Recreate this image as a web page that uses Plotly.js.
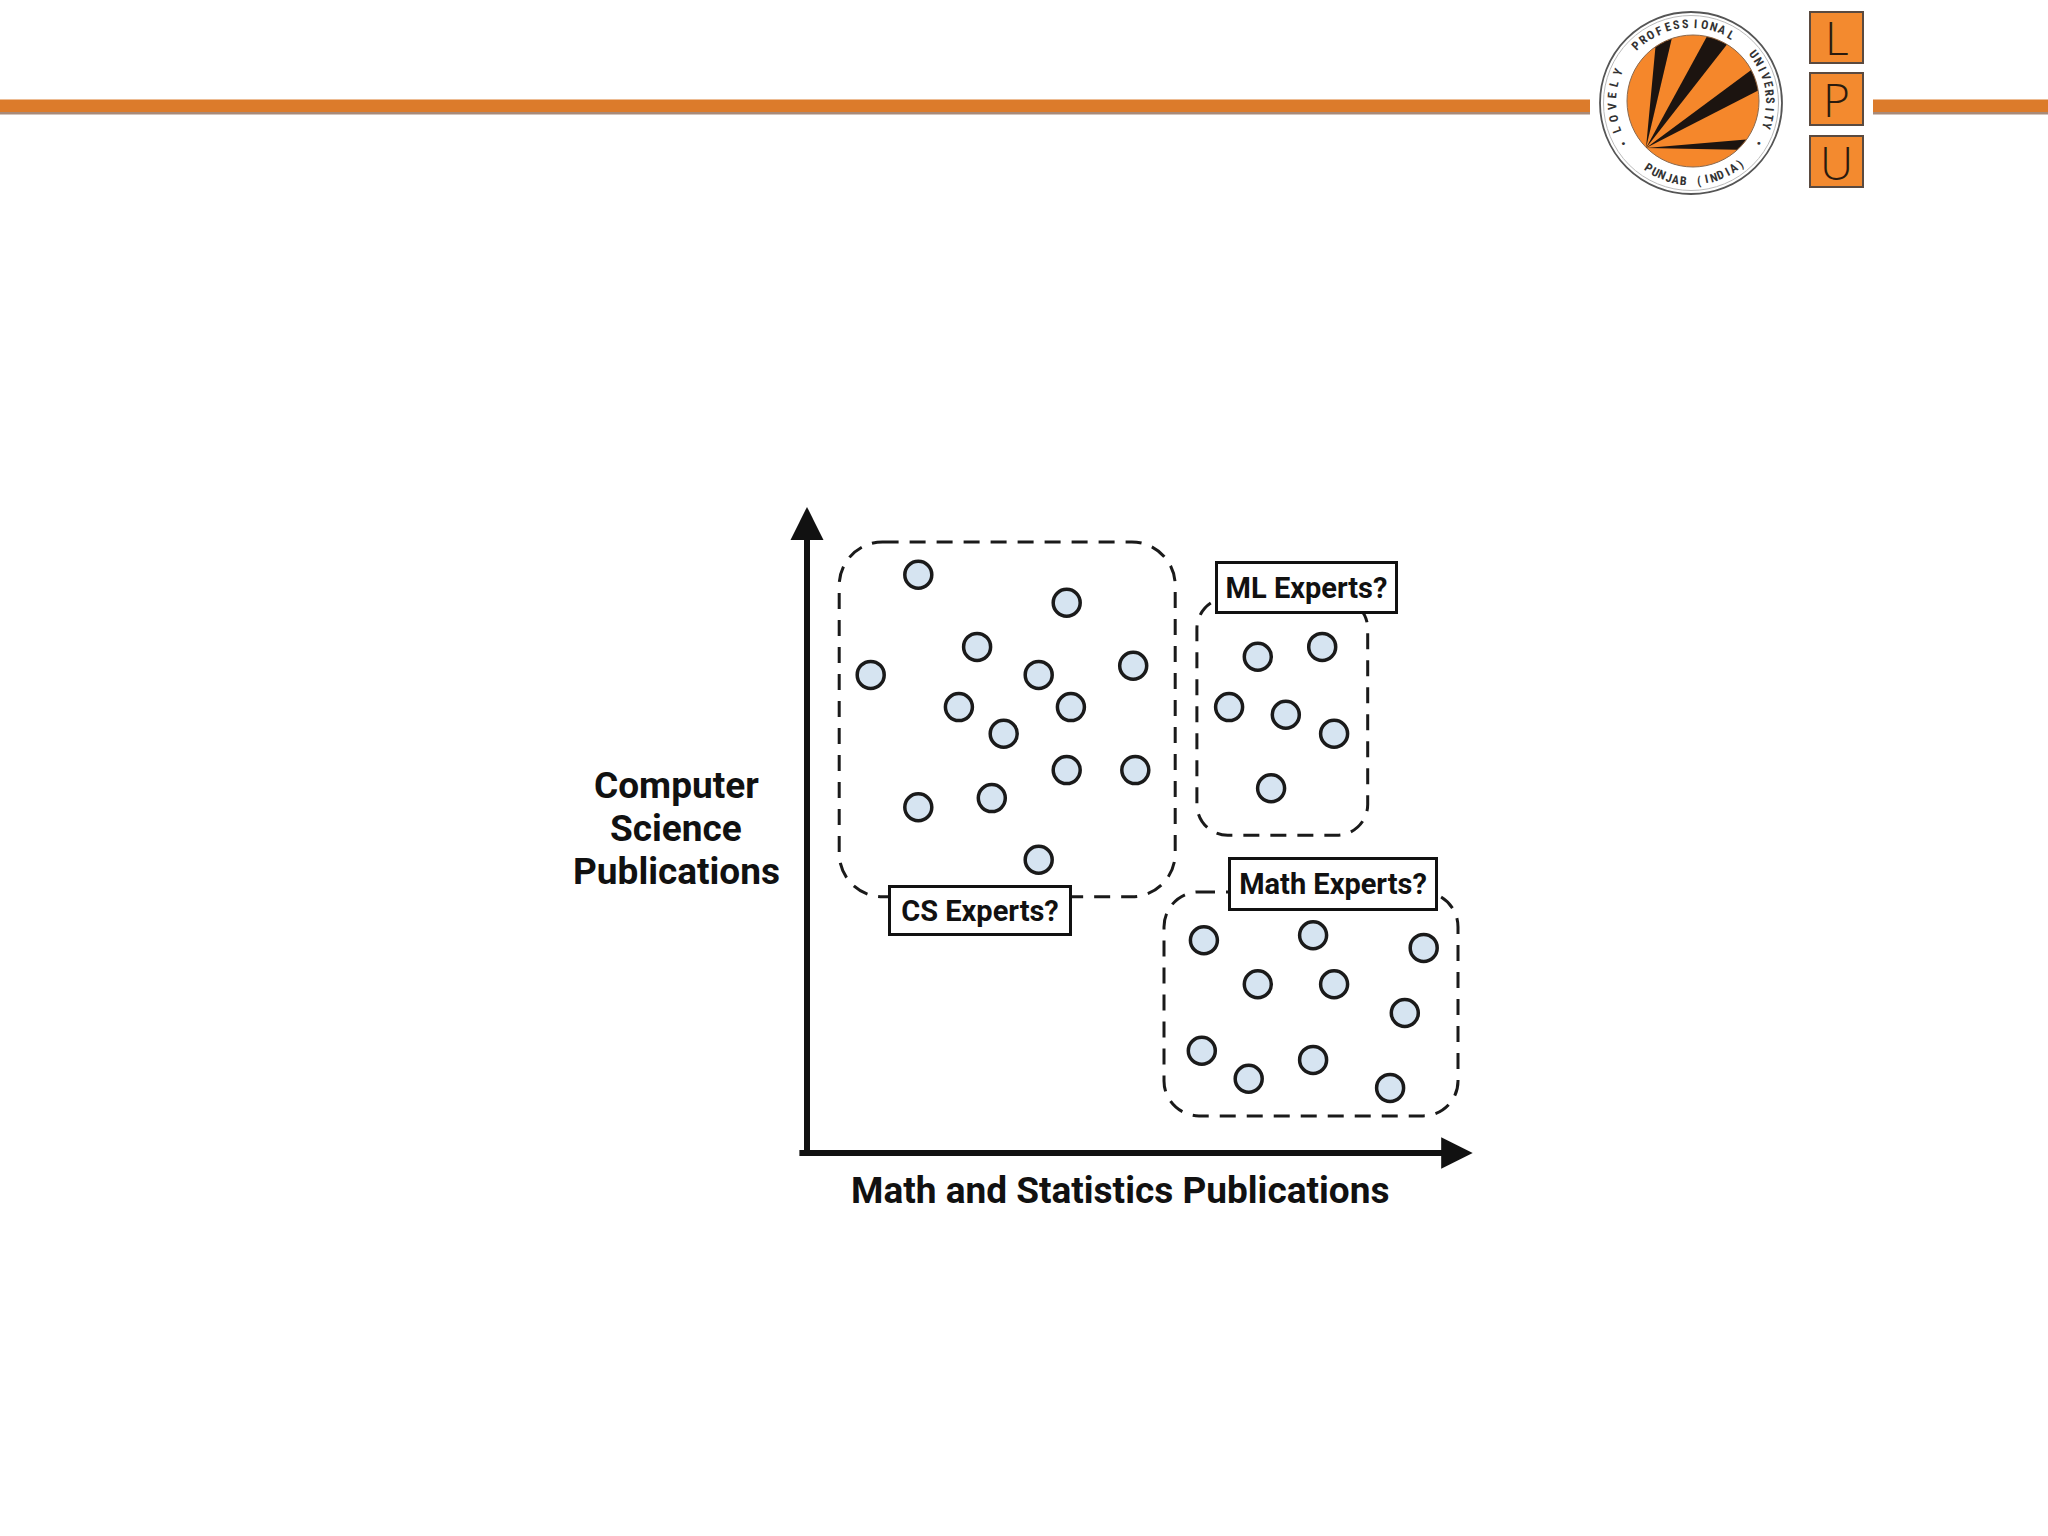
<!DOCTYPE html>
<html><head><meta charset="utf-8">
<script src="https://cdn.plot.ly/plotly-3.0.1.min.js"></script>
<style>html,body{margin:0;padding:0;background:#fff;} #chart{width:2048px;height:1536px;}</style>
</head><body><div id="chart"></div>
<script>
// ---------- data (publication scores on a 0-100 scale) ----------
const csMath   = [15.9, 37.1, 24.3, 9.1, 33.1, 46.6, 21.7, 37.7, 28.1, 37.1, 46.9, 15.9, 26.4, 33.1];
const csComp   = [82.6, 78.6, 72.3, 68.3, 68.3, 69.6, 63.7, 63.7, 59.9, 54.7, 54.7, 49.4, 50.7, 41.9];
const mlMath   = [64.4, 73.6, 60.3, 68.4, 75.3, 66.3];
const mlComp   = [70.9, 72.3, 63.7, 62.6, 59.9, 52.1];
const mathMath = [56.7, 72.3, 88.1, 64.4, 75.3, 85.4, 56.4, 63.1, 72.3, 83.3];
const mathComp = [30.4, 31.1, 29.3, 24.1, 24.1, 20.0, 14.6, 10.6, 13.3, 9.3];

const groupLabels = ['CS Experts?', 'ML Experts?', 'Math Experts?'];
const xAxisLabel = 'Math and Statistics Publications';
const yAxisLabelLines = ['Computer', 'Science', 'Publications'];
// cluster outlines [xmin, xmax, ymin, ymax] in data units
const csBox   = [4.6, 52.6, 36.6, 87.3];
const mlBox   = [55.7, 80.1, 45.4, 79.3];
const mathBox = [51.0, 93.0, 5.3, 37.3];
// logo texts
const logoTop = ['LOVELY', 'PROFESSIONAL', 'UNIVERSITY'];
const logoBottom = 'PUNJAB (INDIA)';
const logoLetters = ['L', 'P', 'U'];

// ---------- layout geometry ----------
const W = 2048, H = 1536;
const M = {l: 807, r: 541, t: 453, b: 383};
const PW = W - M.l - M.r, PH = H - M.t - M.b;
const pX = px => (px - M.l) / PW;          // page pixel -> paper
const pY = py => (H - M.b - py) / PH;

const FONT = 'Roboto, "Liberation Sans", Arial, sans-serif';
const ORANGE = '#F5872B';

function roundRect(b, r) {
  const [x0, x1, y0, y1] = b, k = 0.45;
  return `M ${x0+r},${y1} L ${x1-r},${y1} C ${x1-r*k},${y1} ${x1},${y1-r*k} ${x1},${y1-r} ` +
         `L ${x1},${y0+r} C ${x1},${y0+r*k} ${x1-r*k},${y0} ${x1-r},${y0} ` +
         `L ${x0+r},${y0} C ${x0+r*k},${y0} ${x0},${y0+r*k} ${x0},${y0+r} ` +
         `L ${x0},${y1-r} C ${x0},${y1-r*k} ${x0+r*k},${y1} ${x0+r},${y1} Z`;
}

const marker = {size: 27, color: '#D6E4F1', line: {color: '#1a1a1a', width: 3.5}};
const traces = [
  {x: csMath, y: csComp, name: 'CS'},
  {x: mlMath, y: mlComp, name: 'ML'},
  {x: mathMath, y: mathComp, name: 'Math'}
].map(t => Object.assign(t, {type: 'scatter', mode: 'markers', marker, cliponaxis: false,
  hoverinfo: 'skip', showlegend: false}));

const dashLine = {color: '#1a1a1a', width: 3, dash: '16px,11px'};
const shapes = [
  {type: 'path', xref: 'x', yref: 'y', path: roundRect(csBox, 6.2), line: dashLine, layer: 'below'},
  {type: 'path', xref: 'x', yref: 'y', path: roundRect(mlBox, 4.4), line: dashLine, layer: 'below'},
  {type: 'path', xref: 'x', yref: 'y', path: roundRect(mathBox, 5.0), line: dashLine, layer: 'below'}
];

// header bar
function rectPx(x0, y0, x1, y1, fill, line) {
  return {type: 'rect', xref: 'paper', yref: 'paper', x0: pX(x0), x1: pX(x1), y0: pY(y1), y1: pY(y0),
    fillcolor: fill, line: line || {width: 0}, layer: 'above'};
}
shapes.push(rectPx(0, 99.5, 1590, 112, '#DC7B2B'));
shapes.push(rectPx(0, 112, 1590, 114.5, '#A88A78'));
shapes.push(rectPx(1873, 99.5, 2048, 112, '#DC7B2B'));
shapes.push(rectPx(1873, 112, 2048, 114.5, '#A88A78'));

// logo
function circlePx(cx, cy, r, fill, line) {
  return {type: 'circle', xref: 'paper', yref: 'paper', x0: pX(cx-r), x1: pX(cx+r), y0: pY(cy+r), y1: pY(cy-r),
    fillcolor: fill, line: line, layer: 'above'};
}
const LC = [1691, 103];
shapes.push(circlePx(LC[0], LC[1], 91, '#ffffff', {color: '#555', width: 1.8}));
shapes.push(circlePx(LC[0], LC[1], 87.5, 'rgba(0,0,0,0)', {color: '#bbb', width: 1}));
const DC = [1693, 101], DR = 66;
shapes.push(circlePx(DC[0], DC[1], DR, ORANGE, {color: '#8a6a50', width: 1}));
const V = [1646, 148];
[[109, 125], [59, 78], [9, 28], [-48, -36]].forEach(([a1, a2]) => {
  let p = `M ${pX(V[0])},${pY(V[1])}`;
  for (let i = 0; i <= 6; i++) {
    const a = (a1 + (a2 - a1) * i / 6) * Math.PI / 180;
    p += ` L ${pX(DC[0] + (DR-0.5) * Math.cos(a))},${pY(DC[1] - (DR-0.5) * Math.sin(a))}`;
  }
  shapes.push({type: 'path', xref: 'paper', yref: 'paper', path: p + ' Z', fillcolor: '#1c1410',
    line: {width: 0}, layer: 'above'});
});
// LPU boxes
const boxY = [[12, 63], [73, 125], [136, 187]];
boxY.forEach(([y0, y1]) => shapes.push(rectPx(1810, y0, 1863, y1, '#F38A2F', {color: '#5a4a40', width: 2})));

// ---------- annotations ----------
const ann = [];
const arrowCol = '#111';
ann.push({xref: 'x', yref: 'y', axref: 'x', ayref: 'y', x: 0, y: 92.3, ax: 0, ay: -0.5, text: '',
  showarrow: true, arrowhead: 2, arrowsize: 1.1, arrowwidth: 6, arrowcolor: arrowCol, standoff: 0});
ann.push({xref: 'x', yref: 'y', axref: 'x', ayref: 'y', x: 95.1, y: 0, ax: -1.3, ay: 0, text: '',
  showarrow: true, arrowhead: 2, arrowsize: 1.05, arrowwidth: 6, arrowcolor: arrowCol, standoff: 0});

const axisFont = {family: FONT, size: 37, color: '#111', weight: 700};
ann.push({xref: 'paper', yref: 'paper', x: pX(1120), y: pY(1190), text: xAxisLabel, showarrow: false,
  xanchor: 'center', yanchor: 'middle', font: axisFont});
const yLinePx = [785, 828, 871];
yAxisLabelLines.forEach((t, i) => ann.push({xref: 'paper', yref: 'paper', x: pX(676), y: pY(yLinePx[i]),
  text: t, showarrow: false, xanchor: 'center', yanchor: 'middle', font: axisFont}));

const boxFont = {family: FONT, size: 29, color: '#111', weight: 700};
const labelPos = [[24.7, 34.6, 178, 45], [71.4, 80.8, 177, 47], [75.1, 38.4, 204, 48]];
groupLabels.forEach((t, i) => {
  const [x, y, w, h] = labelPos[i];
  ann.push({xref: 'x', yref: 'y', x, y, text: t, showarrow: false, font: boxFont,
    bgcolor: '#ffffff', bordercolor: '#111', borderwidth: 3, borderpad: 0, width: w, height: h});
});

// logo ring text
const ringFont = {family: '"Liberation Sans Narrow", "Roboto Condensed", Roboto, sans-serif', size: 12, color: '#333', weight: 700};
function ringChar(ch, angDeg, r, bottom) {
  const a = angDeg * Math.PI / 180;
  const x = LC[0] + r * Math.cos(a), y = LC[1] - r * Math.sin(a);
  ann.push({xref: 'paper', yref: 'paper', x: pX(x), y: pY(y), text: ch, showarrow: false,
    xanchor: 'center', yanchor: 'middle', font: ringFont,
    textangle: bottom ? (270 - angDeg) : (90 - angDeg)});
}
const topSpans = [[200, 157], [134, 60], [38, -17]];
logoTop.forEach((word, wi) => {
  const [s, e] = topSpans[wi];
  for (let i = 0; i < word.length; i++) ringChar(word[i], s + (e - s) * i / (word.length - 1), 79, false);
});
for (let i = 0; i < logoBottom.length; i++) {
  if (logoBottom[i] !== ' ') ringChar(logoBottom[i], 237 + 72 * i / (logoBottom.length - 1), 78, true);
}
ringChar('•', 211, 79, true);
ringChar('•', 329, 79, true);

logoLetters.forEach((t, i) => {
  const [y0, y1] = boxY[i];
  ann.push({xref: 'paper', yref: 'paper', x: pX(1836.5), y: pY((y0 + y1) / 2), text: t, showarrow: false,
    xanchor: 'center', yanchor: 'middle',
    font: {family: '"Open Sans", Lato, sans-serif', size: 46, color: '#2a1a0e', weight: 300}});
});

const layout = {
  width: W, height: H,
  margin: M,
  paper_bgcolor: '#ffffff', plot_bgcolor: '#ffffff',
  xaxis: {range: [0, 100], visible: false, fixedrange: true},
  yaxis: {range: [0, 100], visible: false, fixedrange: true},
  showlegend: false,
  shapes, annotations: ann
};
Plotly.newPlot('chart', traces, layout, {displayModeBar: false, staticPlot: true});
</script></body></html>
